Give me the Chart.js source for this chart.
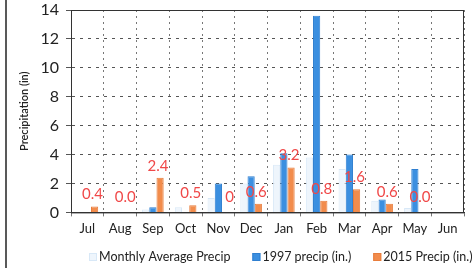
<!DOCTYPE html>
<html>
<head>
<meta charset="utf-8">
<script src="https://cdn.jsdelivr.net/npm/chart.js@4"></script>
<style>
  html, body { margin: 0; padding: 0; background: #fff; }
  #wrap { width: 472px; height: 268px; position: relative; }
</style>
</head>
<body>
<div id="wrap"><canvas id="precipChart" width="472" height="268"></canvas></div>
<script>
// Monthly precip, water year Jul -> Jun
const months = ['Jul', 'Aug', 'Sep', 'Oct', 'Nov', 'Dec', 'Jan', 'Feb', 'Mar', 'Apr', 'May', 'Jun'];
const avgPrecip = [0.05, 0.05, 0.2, 0.35, 1.0, 2.0, 3.3, 3.8, 3.0, 0.8, 0.3, 0.05];
const precip1997 = [0, 0, 0.35, 0, 2.0, 2.5, 4.1, 13.6, 4.0, 0.9, 3.0, 0];
const precip2015 = [0.4, 0, 2.4, 0.5, 0, 0.6, 3.1, 0.8, 1.6, 0.6, 0, null];
const labels2015 = ['0.4', '0.0', '2.4', '0.5', '0', '0.6', '3.2', '0.8', '1.6', '0.6', '0.0', ''];
const yTicks = [0, 2, 4, 6, 8, 10, 12, 14];

const FONT = 'Lato, "Open Sans", sans-serif';

// frame line on the left + solid plot border
const framePlugin = {
    id: 'frame',
    afterDraw(chart) {
        const { ctx, chartArea: a } = chart;
        ctx.save();
        ctx.strokeStyle = '#222';
        ctx.lineWidth = 1.5;
        ctx.beginPath();
        ctx.moveTo(6, 0);
        ctx.lineTo(6, chart.height);
        ctx.stroke();
        ctx.strokeStyle = '#333';
        ctx.lineWidth = 1;
        ctx.strokeRect(a.left + 0.5, a.top + 0.5, a.right - a.left - 1, a.bottom - a.top);
        ctx.restore();
    }
};

// red value labels above the 2015 bars
const valueLabels = {
    id: 'valueLabels',
    afterDatasetsDraw(chart) {
        const { ctx } = chart;
        const meta = chart.getDatasetMeta(2);
        const y0 = chart.scales.y.getPixelForValue(0);
        ctx.save();
        ctx.fillStyle = '#f04848';
        ctx.font = '15px ' + FONT;
        ctx.textAlign = 'center';
        ctx.textBaseline = 'middle';
        meta.data.forEach((bar, i) => {
            const txt = labels2015[i];
            if (!txt) return;
            const top = precip2015[i] == null ? y0 : bar.y;
            const y = Math.min(top - 12, y0 - 15);
            const dx = txt === '0' ? 4 : -2;
            ctx.fillText(txt, bar.x + dx, y);
        });
        ctx.restore();
    }
};

// legend drawn by hand so spacing matches the original
const legendPlugin = {
    id: 'customLegend',
    afterDraw(chart) {
        const { ctx } = chart;
        const y = 257;
        let x = 89;
        ctx.save();
        ctx.font = '12.5px ' + FONT;
        ctx.textBaseline = 'middle';
        chart.data.datasets.forEach(ds => {
            ctx.fillStyle = ds.backgroundColor;
            ctx.fillRect(x, y - 4, 8, 8);
            ctx.strokeStyle = ds.borderColor;
            ctx.strokeRect(x + 0.5, y - 3.5, 7, 7);
            ctx.fillStyle = '#222';
            ctx.fillText(ds.label, x + 10, y);
            x += 10 + ctx.measureText(ds.label).width + 22;
        });
        ctx.restore();
    }
};

new Chart(document.getElementById('precipChart'), {
    type: 'bar',
    data: {
        labels: months,
        datasets: [
            {
                label: 'Monthly Average Precip',
                data: avgPrecip,
                backgroundColor: '#eef5fc',
                borderColor: '#d8e8f7',
                borderWidth: 1
            },
            {
                label: '1997 precip (in.)',
                data: precip1997,
                backgroundColor: '#3b8fe0',
                borderColor: '#2f7fd0',
                borderWidth: 1
            },
            {
                label: '2015 Precip (in.)',
                data: precip2015,
                backgroundColor: '#f28c4c',
                borderColor: '#e87d3c',
                borderWidth: 1
            }
        ]
    },
    options: {
        responsive: false,
        animation: false,
        layout: { padding: { top: 10, right: 8, left: 18, bottom: 26 } },
        datasets: { bar: { categoryPercentage: 0.66, barPercentage: 1 } },
        plugins: {
            legend: { display: false },
            tooltip: { enabled: false }
        },
        scales: {
            x: {
                grid: { offset: true, color: '#777', tickLength: 4 },
                border: { display: true, color: '#333', dash: [2, 4] },
                ticks: { font: { family: FONT, size: 13 }, color: '#222', padding: 5 }
            },
            y: {
                min: 0,
                max: 14,
                afterBuildTicks: s => { s.ticks = yTicks.map(v => ({ value: v })); },
                afterFit: s => { s.width = 53; s.paddingTop = 0; s.paddingBottom = 0; },
                grid: { color: '#555', tickLength: 5 },
                border: { display: true, color: '#333', dash: [3, 5] },
                ticks: { font: { family: FONT, size: 16 }, color: '#222', padding: 7 },
                title: {
                    display: true,
                    text: 'Precipitation (in)',
                    font: { family: FONT, size: 11, weight: '600' },
                    color: '#222',
                    padding: 0
                }
            }
        }
    },
    plugins: [framePlugin, valueLabels, legendPlugin]
});
</script>
</body>
</html>
